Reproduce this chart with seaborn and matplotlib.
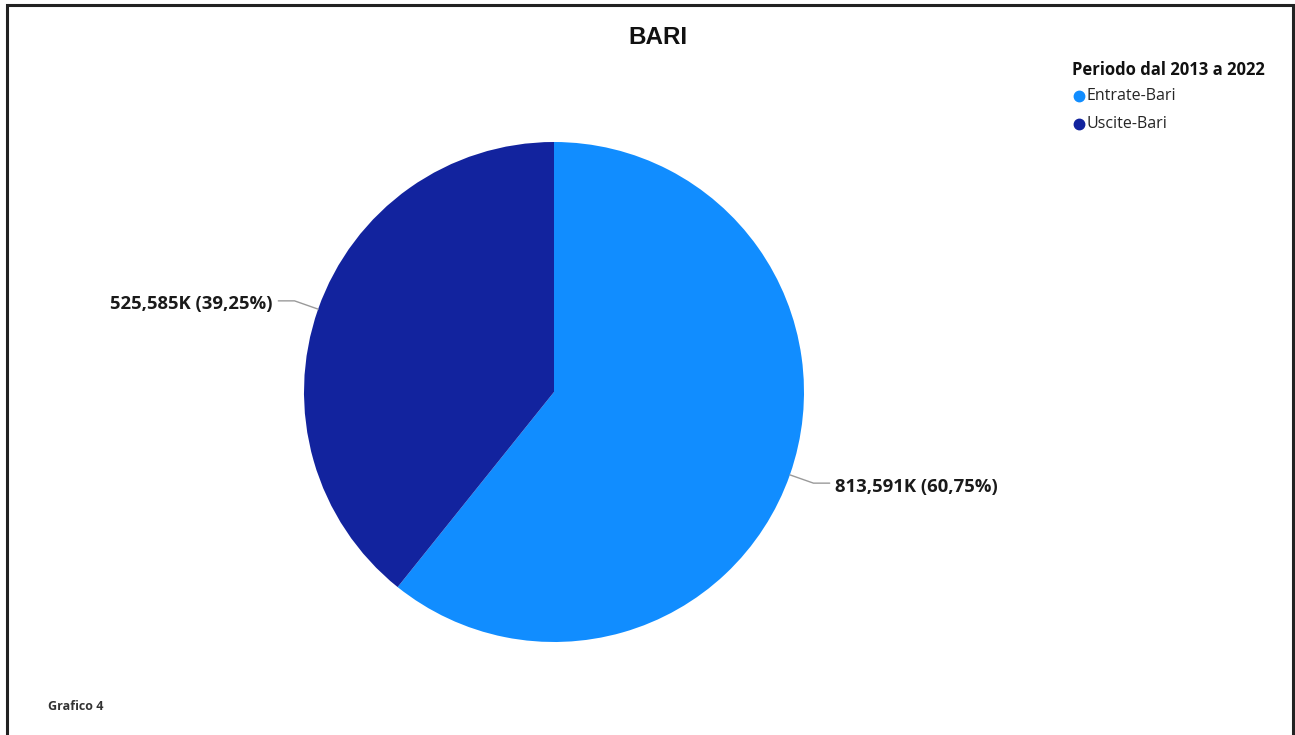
import numpy as np
import matplotlib
matplotlib.use("Agg")
import matplotlib.pyplot as plt
import seaborn as sns
from matplotlib.patches import Rectangle
from matplotlib.lines import Line2D

categories = ["Entrate-Bari", "Uscite-Bari"]
values = [813591, 525585]
value_labels = ["813,591K (60,75%)", "525,585K (39,25%)"]
colors = ["#118DFF", "#12239E"]
title = "BARI"
legend_title = "Periodo dal 2013 a 2022"
footer = "Grafico 4"

sns.set_theme(style="white")
plt.rcParams["font.family"] = ["Open Sans", "DejaVu Sans"]

W, H = 1295, 735
fig = plt.figure(figsize=(W / 100, H / 100), dpi=100)
fig.patch.set_facecolor("white")

# outer frame
fig.add_artist(Rectangle((7 / W, -0.05), (1293 - 7) / W, 1.05 - 5 / H,
                         transform=fig.transFigure, fill=False,
                         edgecolor="#222222", linewidth=2.2))

# square axes holding the pie, radius 1 in data units
cx, cy, r = 554, 392, 250
ax = fig.add_axes([(cx - r) / W, 1 - (cy + r) / H, 2 * r / W, 2 * r / H])
wedges, _ = ax.pie(values, colors=colors, startangle=90, counterclock=False,
                   radius=1.0, wedgeprops=dict(linewidth=0))
ax.set_xlim(-1, 1)
ax.set_ylim(-1, 1)
ax.set_aspect("equal")
ax.axis("off")

# leader lines and value labels
for w, lab in zip(wedges, value_labels):
    ang = np.deg2rad((w.theta1 + w.theta2) / 2)
    p = np.array([np.cos(ang), np.sin(ang)])
    elbow = 1.1 * p
    side = 1 if p[0] > 0 else -1
    end = elbow + np.array([side * 0.065, 0])
    ax.add_line(Line2D([p[0], elbow[0], end[0]], [p[1], elbow[1], end[1]],
                       color="#9a9a9a", linewidth=1.0, clip_on=False))
    ax.text(end[0] + side * 0.022, end[1] - 0.014, lab,
            ha="left" if side > 0 else "right", va="center",
            fontsize=13.3, fontweight="bold", color="#1a1a1a", clip_on=False)

fig.text(658 / W, 1 - 37 / H, title, ha="center", va="center",
         fontsize=17.5, fontweight="bold", color="#111111",
         family=["Liberation Sans", "DejaVu Sans"])

# legend
fig.text(1072 / W, 1 - 70 / H, legend_title, ha="left", va="center",
         fontsize=12, fontweight="bold", color="#111111")
for i, (c, name) in enumerate(zip(colors, categories)):
    y = 96 + 28 * i
    fig.add_artist(Line2D([1079 / W], [1 - y / H], marker="o", markersize=7.5,
                          color=c, linestyle="none", transform=fig.transFigure))
    fig.text(1087 / W, 1 - y / H, name, ha="left", va="center",
             fontsize=11.5, color="#252525")

fig.text(48 / W, 1 - 706 / H, footer, ha="left", va="center",
         fontsize=9, fontweight="bold", color="#333333")

fig.savefig("out.png", dpi=100)
